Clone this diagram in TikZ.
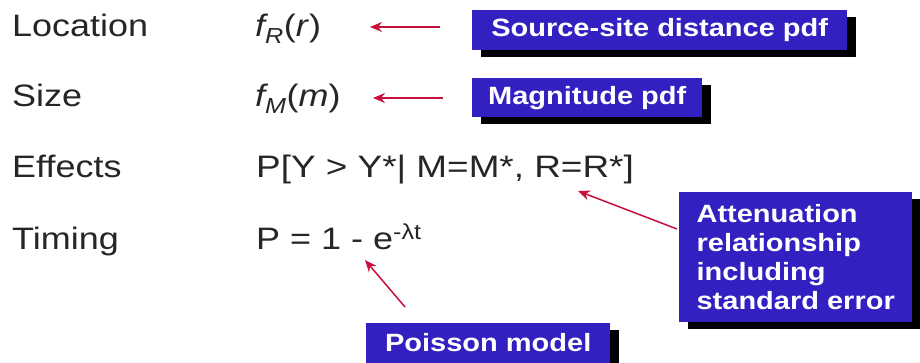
\documentclass[tikz,border=0pt]{standalone}
\usepackage{fontspec}
\setmainfont{Liberation Sans}[FakeStretch=1.16]
\usetikzlibrary{arrows.meta,shadows}
\definecolor{boxblue}{RGB}{50,32,192}
\definecolor{arrred}{RGB}{200,16,60}
\tikzset{
  lbl/.style={anchor=base west, inner sep=0pt, font=\fontsize{31}{36}\selectfont, text=black!85},
  bluebox/.style={anchor=north west, fill=boxblue, inner sep=0pt, text=white,
    font=\bfseries\fontsize{25}{29}\selectfont,
    drop shadow={shadow xshift=9pt, shadow yshift=-7pt, fill=black, opacity=1}},
  arr/.style={draw=arrred, line width=1.5pt, -{Stealth[length=12pt,width=10pt]}}
}
\begin{document}
\begin{tikzpicture}[x=1pt,y=-1pt]
\useasboundingbox (0,0) rectangle (920,363);
\begin{scope}
\clip (0,0) rectangle (920,363);
\fill[white] (0,0) rectangle (920,363);
% left labels
\node[lbl] (loc) at (12,37) {Location};
\node[lbl] (size) at (12,107) {Size};
\node[lbl] (eff) at (12,178) {Effects};
\node[lbl] (tim) at (12,249) {Timing};
% formulas
\node[lbl] (fr) at (255,37) {\textit{f\textsubscript{R}}(\textit{r})};
\node[lbl] (fm) at (255,107) {\textit{f\textsubscript{M}}(\textit{m})};
\node[lbl, font=\fontsize{31}{36}\selectfont\addfontfeature{FakeStretch=1.19}] (pe) at (256,178) {P[Y > Y*| M=M*, R=R*]};
\node[lbl] (pt) at (256,249) {P = 1 - e\textsuperscript{-λt}};
% boxes
\node[bluebox, minimum width=375pt, minimum height=40pt] (b1) at (472,10) {Source-site distance pdf};
\node[bluebox, minimum width=230pt, minimum height=39pt] (b2) at (472,78) {Magnitude pdf};
\node[bluebox, minimum width=233pt, minimum height=130pt, align=left] (b3) at (679,192)
  {Attenuation\\relationship\\including\\standard error};
\node[bluebox, minimum width=244pt, minimum height=54pt, anchor=north west, text depth=0pt] (b4) at (366,323) {\raisebox{15pt}{Poisson model}};
% arrow endpoints
\coordinate (t1) at (440,27);
\coordinate (h1) at (370,27);
\coordinate (t2) at (443,98);
\coordinate (h2) at (373,98);
\coordinate (t3) at (677,229);
\coordinate (h3) at (578,191);
\coordinate (t4) at (405,307);
\coordinate (h4) at (365,260);
\draw[arr] (t1) -- (h1);
\draw[arr] (t2) -- (h2);
\draw[arr] (t3) -- (h3);
\draw[arr] (t4) -- (h4);
\end{scope}
\end{tikzpicture}
\end{document}
